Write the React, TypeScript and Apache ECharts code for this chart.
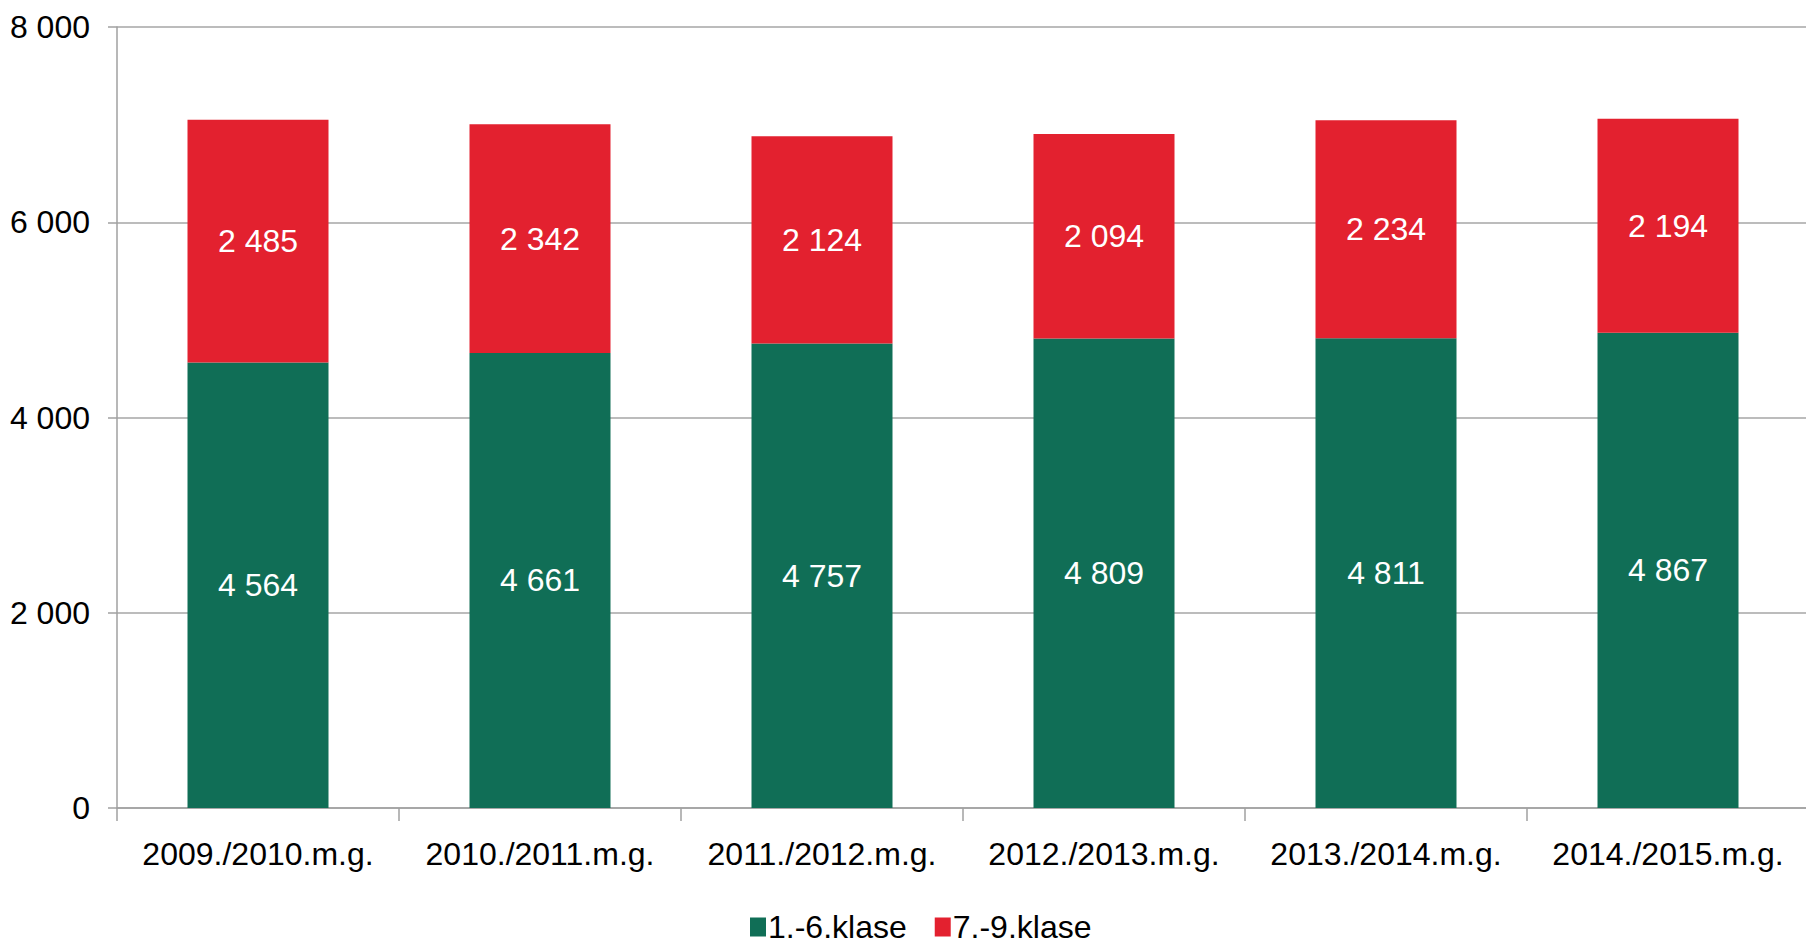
import React, { useEffect, useRef } from "react";
import * as echarts from "echarts";

const categories = [
  "2009./2010.m.g.",
  "2010./2011.m.g.",
  "2011./2012.m.g.",
  "2012./2013.m.g.",
  "2013./2014.m.g.",
  "2014./2015.m.g.",
];
const grades1to6 = [4564, 4661, 4757, 4809, 4811, 4867];
const grades7to9 = [2485, 2342, 2124, 2094, 2234, 2194];
const seriesNames = ["1.-6.klase", "7.-9.klase"];
const yMin = 0;
const yMax = 8000;
const yStep = 2000;

const FONT = "'Liberation Sans', Arial, sans-serif";
const FS = 32;
const fmt = (v: number) => {
  const s = Math.round(v).toString();
  return s.replace(/\B(?=(\d{3})+(?!\d))/g, " ");
};

export default function App() {
  const ref = useRef<HTMLDivElement>(null);
  useEffect(() => {
    if (!ref.current) return;
    const chart = echarts.init(ref.current, null, { renderer: "svg" });
    chart.setOption({
      animation: false,
      backgroundColor: "#ffffff",
      textStyle: { fontFamily: FONT },
      grid: {
        left: 117,
        right: -3,
        top: 27,
        bottom: 138,
        containLabel: false,
        outerBoundsMode: "none",
      },
      legend: {
        data: seriesNames,
        left: 750,
        top: 911,
        padding: 0,
        itemWidth: 16,
        itemHeight: 19,
        itemGap: 28,
        icon: "rect",
        textStyle: { fontSize: FS, color: "#000", fontFamily: FONT, padding: [0, 0, 0, -3], lineHeight: 32 },
      },
      xAxis: {
        type: "category",
        data: categories,
        axisLine: { show: true, lineStyle: { color: "#A0A0A0", width: 1.5 } },
        axisTick: { show: true, length: 13, lineStyle: { color: "#A0A0A0", width: 1.5 } },
        axisLabel: { color: "#000", fontSize: FS, margin: 29, lineHeight: 34, interval: 0, fontFamily: FONT },
      },
      yAxis: {
        type: "value",
        min: yMin,
        max: yMax,
        interval: yStep,
        axisLine: { show: true, lineStyle: { color: "#A0A0A0", width: 1.5 } },
        axisTick: { show: true, length: 9, lineStyle: { color: "#A0A0A0", width: 1.5 } },
        splitLine: { show: true, lineStyle: { color: "#A6A6A6", width: 1.5 } },
        axisLabel: { color: "#000", fontSize: FS, margin: 27, fontFamily: FONT, formatter: (v: number) => fmt(v) },
      },
      series: [
        {
          name: seriesNames[0],
          type: "bar",
          stack: "total",
          data: grades1to6,
          barWidth: "50%",
          itemStyle: { color: "#106E56" },
          label: { show: true, position: "inside", color: "#fff", fontSize: FS, fontFamily: FONT, formatter: (p: any) => fmt(p.value) },
        },
        {
          name: seriesNames[1],
          type: "bar",
          stack: "total",
          data: grades7to9,
          barWidth: "50%",
          itemStyle: { color: "#E3212F" },
          label: { show: true, position: "inside", color: "#fff", fontSize: FS, fontFamily: FONT, formatter: (p: any) => fmt(p.value) },
        },
      ],
    });
    return () => chart.dispose();
  }, []);
  return (
    <div
      ref={ref}
      style={{ position: "fixed", left: 0, top: 0, width: 1806, height: 946 }}
    />
  );
}
